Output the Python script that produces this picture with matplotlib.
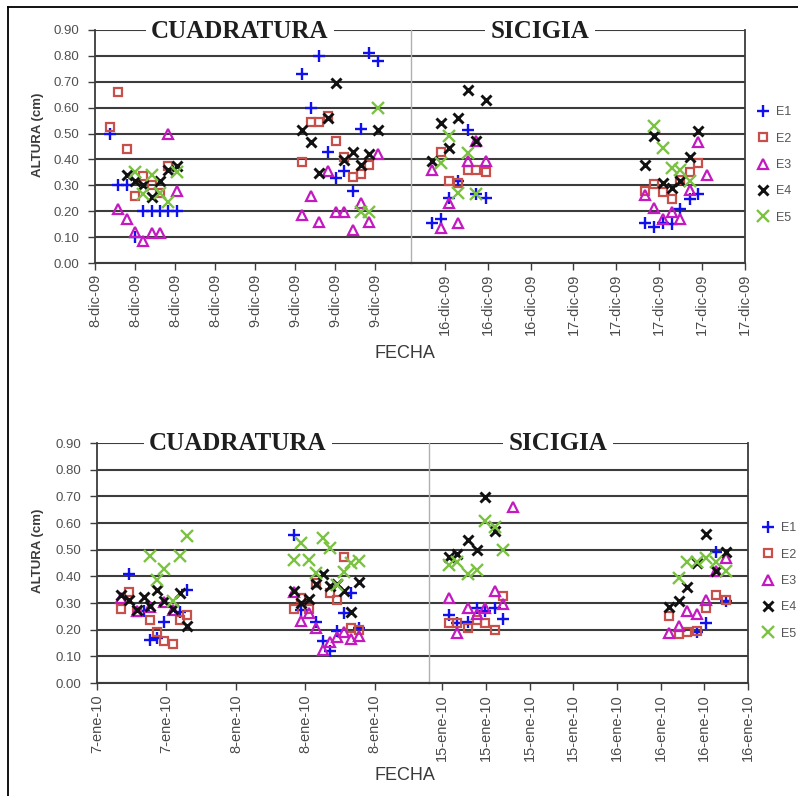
import numpy as np
import matplotlib
matplotlib.use("Agg")
import matplotlib.pyplot as plt
from matplotlib.lines import Line2D

nan = np.nan

# ---------------------------------------------------------------
# Wave height (cm) per station E1..E5.
# x positions are given in tick units of each axis section.
# ---------------------------------------------------------------

# December 2009 - cuadratura (8/9 dic)
dic_cua_a_t = [0.375, 0.58, 0.79, 1.0, 1.21, 1.42, 1.625, 1.83, 2.04]
dic_cua_a_e1 = [0.50, 0.30, 0.30, 0.10, 0.20, 0.20, 0.20, 0.20, 0.20]
dic_cua_a_e2 = [0.525, 0.66, 0.44, 0.26, 0.335, 0.30, 0.27, 0.375, nan]
dic_cua_a_e3 = [nan, 0.21, 0.17, 0.12, 0.085, 0.115, 0.115, 0.50, 0.28]
dic_cua_a_e4 = [nan, nan, 0.34, 0.315, 0.30, 0.255, 0.315, 0.36, 0.375]
dic_cua_a_e5 = [nan, nan, nan, 0.35, 0.265, 0.34, 0.27, 0.235, 0.35]

dic_cua_b_t = [5.18, 5.39, 5.61, 5.82, 6.02, 6.23, 6.44, 6.65, 6.86, 7.07]
dic_cua_b_e1 = [0.73, 0.60, 0.80, 0.43, 0.33, 0.355, 0.28, 0.517, 0.81, 0.78]
dic_cua_b_e2 = [0.39, 0.546, 0.546, 0.568, 0.473, 0.41, 0.334, 0.345, 0.377, nan]
dic_cua_b_e3 = [0.186, 0.257, 0.16, 0.357, 0.197, 0.197, 0.126, 0.231, 0.16, 0.42]
dic_cua_b_e4 = [0.514, 0.469, 0.347, 0.559, 0.697, 0.396, 0.427, 0.377, 0.422, 0.514]
dic_cua_b_e5 = [nan, nan, nan, nan, nan, nan, nan, 0.197, 0.197, 0.60]

# December 2009 - sicigia (16/17 dic)
dic_sic_a_t = [-0.30, -0.10, 0.10, 0.31, 0.53, 0.73, 0.95]
dic_sic_a_e1 = [0.155, 0.17, 0.25, 0.315, 0.515, 0.265, 0.25]
dic_sic_a_e2 = [nan, 0.43, 0.315, 0.31, 0.36, 0.36, 0.35]
dic_sic_a_e3 = [0.36, 0.135, 0.23, 0.155, 0.395, 0.47, 0.395]
dic_sic_a_e4 = [0.395, 0.54, 0.445, 0.56, 0.67, 0.47, 0.63]
dic_sic_a_e5 = [nan, 0.385, 0.49, 0.27, 0.425, 0.265, nan]

dic_sic_b_t = [4.67, 4.88, 5.08, 5.29, 5.48, 5.71, 5.91, 6.12]
dic_sic_b_e1 = [0.155, 0.14, 0.155, 0.15, 0.21, 0.248, 0.267, nan]
dic_sic_b_e2 = [0.28, 0.305, 0.275, 0.247, 0.32, 0.352, 0.386, nan]
dic_sic_b_e3 = [0.263, 0.213, 0.171, 0.198, 0.171, 0.283, 0.466, 0.341]
dic_sic_b_e4 = [0.38, 0.49, 0.31, 0.29, 0.315, 0.41, 0.51, nan]
dic_sic_b_e5 = [nan, 0.528, 0.445, 0.368, 0.36, 0.315, nan, nan]

# January 2010 - cuadratura (7/8 ene)
ene_cua_a_t = [0.34, 0.46, 0.57, 0.67, 0.76, 0.86, 0.97, 1.09, 1.19, 1.30]
ene_cua_a_e1 = [nan, 0.41, nan, 0.27, 0.16, 0.17, 0.227, nan, 0.268, 0.348]
ene_cua_a_e2 = [0.278, 0.343, 0.268, nan, 0.235, 0.19, 0.158, 0.147, 0.235, 0.254]
ene_cua_a_e3 = [0.32, nan, 0.27, nan, 0.285, nan, 0.305, 0.275, nan, nan]
ene_cua_a_e4 = [0.33, 0.313, 0.274, 0.322, 0.288, 0.347, 0.308, 0.277, 0.338, 0.212]
ene_cua_a_e5 = [nan, nan, nan, nan, 0.477, 0.386, 0.426, 0.308, 0.477, 0.553]

ene_cua_b_t = [2.83, 2.94, 3.05, 3.15, 3.25, 3.35, 3.45, 3.56, 3.66, 3.77]
ene_cua_b_e1 = [0.555, 0.272, nan, 0.227, 0.157, 0.119, 0.195, 0.261, 0.338, 0.207]
ene_cua_b_e2 = [0.278, 0.32, 0.278, 0.374, nan, 0.337, 0.313, 0.474, 0.205, 0.20]
ene_cua_b_e3 = [0.34, 0.233, 0.264, 0.206, 0.125, 0.155, 0.172, 0.19, 0.165, 0.177]
ene_cua_b_e4 = [0.345, 0.299, 0.316, 0.373, 0.409, 0.364, 0.371, 0.344, 0.268, 0.377]
ene_cua_b_e5 = [0.461, 0.526, 0.461, 0.411, 0.544, 0.506, 0.366, 0.418, 0.45, 0.457]

# January 2010 - sicigia (15/16 ene)
ene_sic_a_t = [0.15, 0.35, 0.59, 0.79, 0.99, 1.20, 1.40, 1.63]
ene_sic_a_e1 = [0.255, 0.225, 0.23, 0.28, 0.27, 0.28, 0.24, nan]
ene_sic_a_e2 = [0.225, 0.225, 0.205, 0.237, 0.225, 0.197, 0.326, nan]
ene_sic_a_e3 = [0.317, 0.189, 0.282, 0.258, 0.282, 0.345, 0.296, 0.66]
ene_sic_a_e4 = [0.474, 0.484, 0.537, 0.498, 0.698, 0.57, nan, nan]
ene_sic_a_e5 = [0.442, 0.452, 0.407, 0.422, 0.609, 0.585, 0.499, nan]

ene_sic_b_t = [5.19, 5.41, 5.61, 5.83, 6.04, 6.26, 6.49]
ene_sic_b_e1 = [nan, nan, nan, 0.192, 0.226, 0.49, 0.309]
ene_sic_b_e2 = [0.251, 0.185, 0.19, 0.196, 0.282, 0.33, 0.31]
ene_sic_b_e3 = [0.187, 0.215, 0.27, 0.258, 0.311, 0.42, 0.468]
ene_sic_b_e4 = [0.285, 0.308, 0.36, 0.451, 0.56, 0.42, 0.49]
ene_sic_b_e5 = [nan, 0.393, 0.455, 0.454, 0.47, 0.453, 0.42]

# Tick labels of each axis section
dic_cua_ticks = ["8-dic-09"] * 4 + ["9-dic-09"] * 4
dic_sic_ticks = ["16-dic-09"] * 3 + ["17-dic-09"] * 5
ene_cua_ticks = ["7-ene-10"] * 2 + ["8-ene-10"] * 3
ene_sic_ticks = ["15-ene-10"] * 4 + ["16-ene-10"] * 4

station_names = ["E1", "E2", "E3", "E4", "E5"]
y_ticks = [0.0, 0.1, 0.2, 0.3, 0.4, 0.5, 0.6, 0.7, 0.8, 0.9]

# ---------------------------------------------------------------
W, H = 798, 796
fig = plt.figure(figsize=(W / 100, H / 100), dpi=100)
fig.patch.set_facecolor("white")

GRID = "#3c3c3c"
TXT = "#3a3a3a"

styles = {
    "E1": dict(marker="+", color="#1010ee", ms=9, mew=1.7, mfc="none"),
    "E2": dict(marker="s", color="#c8504a", ms=6, mew=1.6, mfc="none"),
    "E3": dict(marker="^", color="#c419c0", ms=7.5, mew=1.6, mfc="none"),
    "E4": dict(marker="x", color="#111111", ms=7, mew=2.1, mfc="none"),
    "E5": dict(marker="x", color="#7cc242", ms=8.5, mew=1.7, mfc="none"),
}


def px_axes(x0, x1, y0, y1):
    return fig.add_axes([x0 / W, 1 - y1 / H, (x1 - x0) / W, (y1 - y0) / H])


def style_axes(ax, xlim, labels, side):
    ax.set_xlim(*xlim)
    ax.set_ylim(0, 0.9)
    ax.set_yticks(y_ticks)
    ax.set_axisbelow(True)
    ax.yaxis.grid(True, color=GRID, lw=1.5)
    ax.set_xticks(range(len(labels)))
    ax.set_xticklabels(labels, rotation=90, fontsize=10.5, color="#4a4a4a",
                       family="Liberation Sans")
    ax.tick_params(axis="x", direction="out", length=5, width=1.0,
                   color=GRID, pad=3)
    ax.spines["top"].set_visible(False)
    ax.spines["bottom"].set_color(GRID)
    ax.spines["bottom"].set_linewidth(1.5)
    if side == "left":
        ax.spines["right"].set_visible(False)
        ax.spines["left"].set_color(GRID)
        ax.spines["left"].set_linewidth(1.3)
        ax.set_yticklabels([f"{v:.2f}" for v in y_ticks], fontsize=9.5,
                           color="#505050", family="Liberation Sans")
        ax.tick_params(axis="y", direction="out", length=5, width=1.0,
                       color=GRID, pad=6)
    else:
        ax.spines["left"].set_color("#b0b0b0")
        ax.spines["left"].set_linewidth(1.0)
        ax.spines["right"].set_color(GRID)
        ax.spines["right"].set_linewidth(1.3)
        ax.tick_params(axis="y", left=False, labelleft=False)


def draw(ax, t, series):
    handles = []
    for name, vals in zip(station_names, series):
        h, = ax.plot(t, vals, ls="none", clip_on=False, zorder=3,
                     label=name, **styles[name])
        handles.append(h)
    return handles


# ---------------- upper panel (December 2009) ----------------
ax1 = px_axes(95, 411, 30, 263)
ax2 = px_axes(411, 745, 30, 263)
style_axes(ax1, (0, 7.9), dic_cua_ticks, "left")
style_axes(ax2, (-0.79, 7.0), dic_sic_ticks, "right")
draw(ax1, dic_cua_a_t, [dic_cua_a_e1, dic_cua_a_e2, dic_cua_a_e3, dic_cua_a_e4, dic_cua_a_e5])
draw(ax1, dic_cua_b_t, [dic_cua_b_e1, dic_cua_b_e2, dic_cua_b_e3, dic_cua_b_e4, dic_cua_b_e5])
draw(ax2, dic_sic_a_t, [dic_sic_a_e1, dic_sic_a_e2, dic_sic_a_e3, dic_sic_a_e4, dic_sic_a_e5])
hdl = draw(ax2, dic_sic_b_t, [dic_sic_b_e1, dic_sic_b_e2, dic_sic_b_e3, dic_sic_b_e4, dic_sic_b_e5])

# ---------------- lower panel (January 2010) ----------------
ax3 = px_axes(97, 429, 443, 683)
ax4 = px_axes(429, 748, 443, 683)
style_axes(ax3, (0, 4.78), ene_cua_ticks, "left")
style_axes(ax4, (-0.30, 7.0), ene_sic_ticks, "right")
draw(ax3, ene_cua_a_t, [ene_cua_a_e1, ene_cua_a_e2, ene_cua_a_e3, ene_cua_a_e4, ene_cua_a_e5])
draw(ax3, ene_cua_b_t, [ene_cua_b_e1, ene_cua_b_e2, ene_cua_b_e3, ene_cua_b_e4, ene_cua_b_e5])
draw(ax4, ene_sic_a_t, [ene_sic_a_e1, ene_sic_a_e2, ene_sic_a_e3, ene_sic_a_e4, ene_sic_a_e5])
draw(ax4, ene_sic_b_t, [ene_sic_b_e1, ene_sic_b_e2, ene_sic_b_e3, ene_sic_b_e4, ene_sic_b_e5])

# ---------------- titles over the top gridline ----------------
title_kw = dict(ha="center", va="center", family="Liberation Serif",
                weight="bold", size=18, color="#1e1e1e", zorder=10,
                bbox=dict(fc="white", ec="none", pad=4))
fig.text(240 / W, 1 - 31 / H, "CUADRATURA", **title_kw)
fig.text(540 / W, 1 - 31 / H, "SICIGIA", **title_kw)
fig.text(238 / W, 1 - 443 / H, "CUADRATURA", **title_kw)
fig.text(558 / W, 1 - 443 / H, "SICIGIA", **title_kw)

# ---------------- axis titles ----------------
lab_kw = dict(ha="center", va="center", family="Liberation Sans",
              color=TXT)
fig.text(405 / W, 1 - 353 / H, "FECHA", size=13, **lab_kw)
fig.text(405 / W, 1 - 776 / H, "FECHA", size=13, **lab_kw)
fig.text(38 / W, 1 - 135 / H, "ALTURA (cm)", size=9.5, weight="bold",
         rotation=90, **lab_kw)
fig.text(38 / W, 1 - 551 / H, "ALTURA (cm)", size=9.5, weight="bold",
         rotation=90, **lab_kw)

# ---------------- legends ----------------
leg_kw = dict(loc="center left", bbox_transform=fig.transFigure,
              frameon=False, handlelength=1.0,
              handletextpad=0.5, labelspacing=1.15, borderpad=0,
              borderaxespad=0, labelcolor="#555555",
              prop=dict(family="Liberation Sans", size=9))
fig.legend(hdl, station_names, bbox_to_anchor=(757 / W, 1 - 165 / H), **leg_kw)
fig.legend(hdl, station_names, bbox_to_anchor=(762 / W, 1 - 581 / H), **leg_kw)

# ---------------- outer frame ----------------
fig.add_artist(Line2D([8 / W, 8 / W], [0, 1 - 7 / H], color="black", lw=1.3,
                      transform=fig.transFigure))
fig.add_artist(Line2D([8 / W, 1], [1 - 7 / H, 1 - 7 / H], color="black", lw=1.3,
                      transform=fig.transFigure))

fig.savefig("out.png", dpi=100, facecolor="white")
